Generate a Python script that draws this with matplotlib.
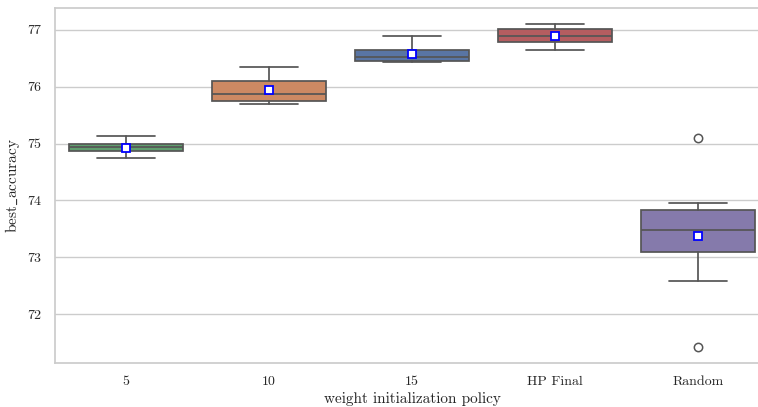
import matplotlib
matplotlib.use("Agg")
import matplotlib.pyplot as plt
import seaborn as sns

# Per-policy summary statistics of best_accuracy
policies = ["5", "10", "15", "HP Final", "Random"]
q1 = [74.877, 75.75, 76.46, 76.78, 73.09]
median = [74.935, 75.87, 76.53, 76.89, 73.48]
q3 = [74.995, 76.10, 76.64, 77.01, 73.83]
whisker_low = [74.75, 75.70, 76.43, 76.65, 72.58]
whisker_high = [75.14, 76.35, 76.90, 77.10, 73.95]
means = [74.93, 75.95, 76.58, 76.90, 73.38]
outliers = [[], [], [], [], [71.42, 75.10]]

base_colors = ["#55A868", "#DD8452", "#4C72B0", "#C44E52", "#8172B3"]

sns.set_theme(style="whitegrid")
plt.rcParams["font.family"] = ["cmr10", "DejaVu Serif"]
plt.rcParams["mathtext.fontset"] = "cm"
plt.rcParams["axes.formatter.use_mathtext"] = True
plt.rcParams["axes.unicode_minus"] = False

fig = plt.figure(figsize=(7.58, 4.07), dpi=100)
W, H = 758, 407
left, right, top, bottom = 54.5, 769.5, 8, 363
ax = fig.add_axes([left / W, (H - bottom) / H, (right - left) / W, (bottom - top) / H])

stats = []
for i, name in enumerate(policies):
    stats.append(dict(label=name, q1=q1[i], med=median[i], q3=q3[i],
                      whislo=whisker_low[i], whishi=whisker_high[i],
                      mean=means[i], fliers=outliers[i]))

line_col = "#555555"
lw = 1.25
bp = ax.bxp(stats, positions=range(len(policies)), widths=0.8,
            patch_artist=True, showmeans=True, showfliers=True,
            boxprops=dict(edgecolor=line_col, linewidth=lw),
            medianprops=dict(color=line_col, linewidth=lw),
            whiskerprops=dict(color=line_col, linewidth=lw),
            capprops=dict(color=line_col, linewidth=lw),
            capwidths=0.4,
            flierprops=dict(marker="o", markerfacecolor="none",
                            markeredgecolor=line_col, markersize=6,
                            markeredgewidth=1.1),
            meanprops=dict(marker="s", markerfacecolor="white",
                           markeredgecolor="blue", markersize=5.5,
                           markeredgewidth=1.3))
for patch, c in zip(bp["boxes"], base_colors):
    patch.set_facecolor(sns.desaturate(c, 0.75))

ax.set_xlim(-0.5, len(policies) - 0.5)
ax.set_ylim(71.14, 77.386)
ax.set_yticks([72, 73, 74, 75, 76, 77])
ax.set_yticklabels(["72", "73", "74", "75", "76", "77"])
ax.xaxis.grid(False)
ax.yaxis.grid(True, color="0.8", linewidth=1)
for s in ax.spines.values():
    s.set_color("0.8")
    s.set_linewidth(1.25)
ax.tick_params(axis="both", labelsize=10, colors="#262626")
ax.set_xlabel("weight initialization policy", fontsize=11, labelpad=3)
ax.set_ylabel(r"best$\_$accuracy", fontsize=11, labelpad=3.5)

fig.savefig("out.png", dpi=100)
